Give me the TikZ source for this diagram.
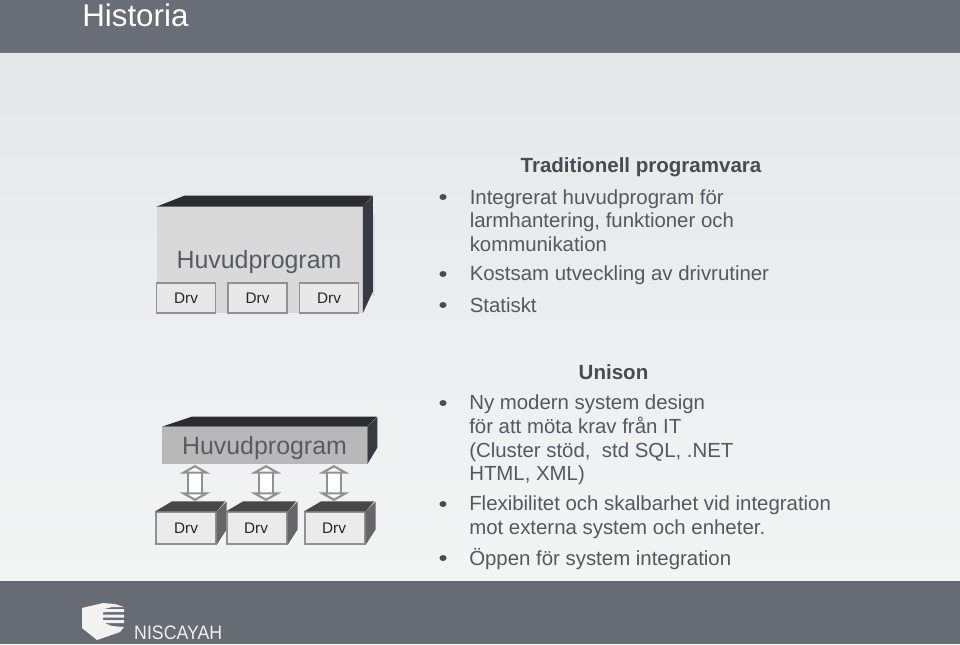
\documentclass[tikz,border=0pt]{standalone}
\usepackage{fontspec}
\setmainfont{Liberation Sans}
\usetikzlibrary{arrows.meta,calc}
\definecolor{barc}{HTML}{696D76}
\definecolor{bodyc}{HTML}{54585F}
\definecolor{titlec}{HTML}{474B52}
\definecolor{edgec}{HTML}{909191}
\definecolor{blocktop}{HTML}{2B2D31}
\definecolor{blockside}{HTML}{363A42}
\definecolor{bigtext}{HTML}{585C62}
\tikzset{
  x=0.75pt,y=-0.75pt,
  bigbox/.style={inner sep=0pt,font=\fontsize{18.7pt}{20pt}\selectfont,text=bigtext},
  drvbox/.style={draw=edgec,line width=1.1pt,fill=#1,inner sep=0pt,minimum height=22.5pt,font=\fontsize{11.5pt}{13pt}\selectfont,text=black!85},
  para/.style={anchor=west,align=left,inner sep=0pt,text=bodyc,font=\fontsize{15.3pt}{17.4pt}\selectfont},
  parab/.style={para,font=\fontsize{15.3pt}{17.7pt}\selectfont},
  headt/.style={inner sep=0pt,text=titlec,font=\fontsize{15.4pt}{17pt}\selectfont\bfseries},
  link/.style={draw=edgec,line width=1.6pt,double=white,double distance=9pt,
    {Triangle[width=23pt,length=6.5pt,fill=white]}-{Triangle[width=23pt,length=6.5pt,fill=white]}},
}
\begin{document}
\begin{tikzpicture}
\useasboundingbox (0,0) rectangle (960,644);
% background
\shade[top color={rgb,255:red,230;green,231;blue,233},bottom color={rgb,255:red,243;green,244;blue,244}] (0,52) rectangle (960,581);
\fill[barc] (0,0) rectangle (960,52);
\fill[gray!70!barc] (0,51.5) rectangle (960,53);
\fill[barc!98!black] (0,581) rectangle (960,644);
\node[anchor=west,inner sep=0pt,text=white,font=\fontsize{23.5pt}{26pt}\selectfont] (title) at (82,15) {Historia};

% upper block
\fill[black!14] (366,214) rectangle (375,296);
\node[inner sep=0pt,minimum width=154.5pt,minimum height=79.5pt,fill=black!15] (mainA) at (259.5,260) {};
\node[bigbox] (mainAt) at (259,262.5) {Huvudprogram};
\fill[blocktop] (mainA.north west) -- ++(28,-11) -- ++(188,0) -- (mainA.north east) -- cycle;
\fill[blockside] (mainA.north east) -- ++(10,-11) -- ++(0,96) -- (mainA.south east) -- cycle;
\node[drvbox=black!9,minimum width=44pt] (dA1) at (186,298) {Drv};
\node[drvbox=black!9,minimum width=44pt] (dA2) at (257.5,298) {Drv};
\node[drvbox=black!9,minimum width=44pt] (dA3) at (329,298) {Drv};

% lower block
\node[inner sep=0pt,minimum width=153.75pt,minimum height=27.75pt,fill=black!28] (mainB) at (264.5,445.5) {};
\node[bigbox] (mainBt) at (264.5,448) {Huvudprogram};
\fill[blocktop] (mainB.north west) -- ++(30,-10) -- ++(185,0) -- (mainB.north east) -- cycle;
\fill[blockside] (mainB.north east) -- ++(10,-10) -- ++(0,31) -- (mainB.south east) -- cycle;

\foreach \n/\cx/\tx in {1/186/186,2/257/256,3/335/334}{
  \node[drvbox=black!8,minimum width=45pt,minimum height=24pt] (dB\n) at (\cx,528) {};
  \node[inner sep=0pt,font=\fontsize{11.5pt}{13pt}\selectfont,text=black!85] (dBt\n) at (\tx,528) {Drv};
  \fill[black!72] (dB\n.north west) -- ++(17,-10) -- ++(53,0) -- (dB\n.north east) -- cycle;
  \fill[black!60] (dB\n.north east) -- ++(10,-10) -- ++(0,28) -- (dB\n.south east) -- cycle;
}
\coordinate (t1) at (195,465);
\coordinate (t2) at (266,465);
\coordinate (t3) at (334,465);
\coordinate (b1) at (195,501);
\coordinate (b2) at (266,501);
\coordinate (b3) at (334,501);
\draw[link] (t1) -- (b1);
\draw[link] (t2) -- (b2);
\draw[link] (t3) -- (b3);

% text upper
\node[headt] (h1) at (641,167) {Traditionell programvara};
\node[para] (p1) at (469.5,220.5) {Integrerat huvudprogram för\\larmhantering, funktioner och\\kommunikation};
\node[para] (p2) at (469.5,275.5) {Kostsam utveckling av drivrutiner};
\node[para] (p3) at (469.5,305.5) {Statiskt};
% text lower
\node[headt] (h2) at (613.5,372) {Unison};
\node[parab] (p4) at (469,440) {Ny modern system design\\för att möta krav från IT\\(Cluster stöd,\ \ std SQL, .NET\\HTML, XML)};
\node[parab] (p5) at (469,517.5) {Flexibilitet och skalbarhet vid integration\\mot externa system och enheter.};
\node[parab] (p6) at (469,559) {Öppen för system integration};
% bullets
\foreach \y in {197,274,305,403,504,558}{
  \fill[titlec] (443,\y) ellipse (3.6 and 3);
}
% logo
\fill[black!5] (82,608) -- (103,603) -- (115,604) -- (124,607) -- (112,607) -- (104,609) -- (124,609) -- (124,612) -- (103,612) -- (103,614.5) -- (124,614.5) -- (124,617.5) -- (103,617.5) -- (103,620) -- (124,620) -- (124,623) -- (104,623) -- (112,626) -- (124,627) -- (120,632) -- (97,640) -- (82,628) -- cycle;
\node[anchor=west,inner sep=0pt,text=black!6,xscale=.91,font=\fontsize{14.6pt}{16pt}\selectfont] (logo) at (134,632.5) {NISCAYAH};
\end{tikzpicture}
\end{document}
